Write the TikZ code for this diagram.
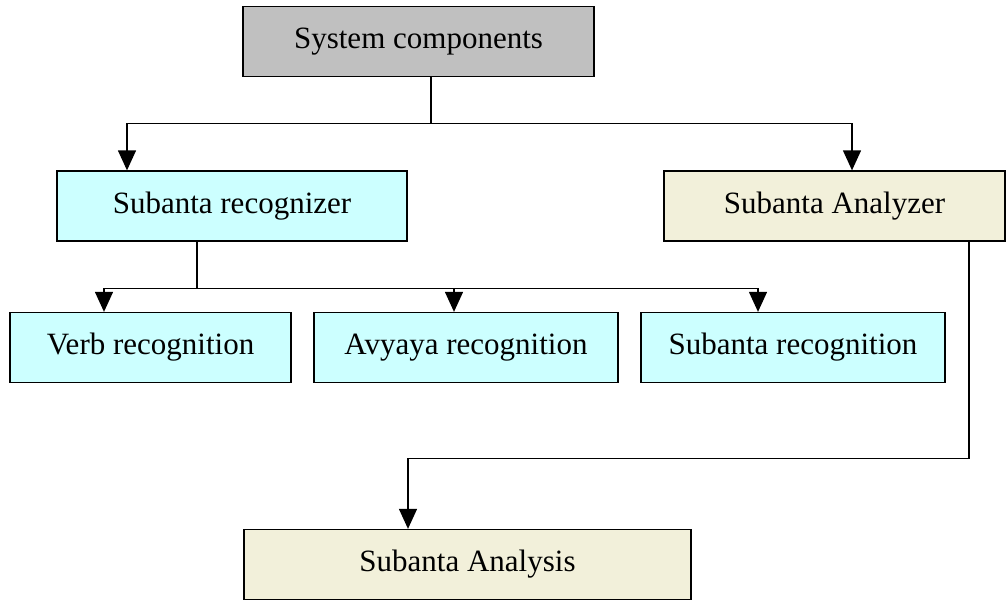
\documentclass[tikz,border=0pt]{standalone}
\usepackage{fontspec}
\setmainfont{Liberation Serif}
\usepackage{tikz}
\usetikzlibrary{arrows.meta}
\usetikzlibrary{calc}
\definecolor{boxgrey}{HTML}{C0C0C0}
\definecolor{boxcyan}{HTML}{CCFFFF}
\definecolor{boxbeige}{HTML}{F2F0DA}

\begin{document}
\begin{tikzpicture}[x=1pt,y=-1pt,
  box/.style={draw,line width=1.3pt,inner sep=0pt,minimum height=70pt,
    font=\fontsize{31}{36}\selectfont},
  link/.style={line width=1.3pt},
  flow/.style={link,-{Triangle[width=18pt,length=20pt]}}]
\useasboundingbox (0,0) rectangle (1006,602);
% boxes
\node[box,fill=boxgrey,minimum width=351pt]  (sys)  at (418.5,41.5) {System components};
\node[box,fill=boxcyan,minimum width=350pt]  (rec)  at (232,206)    {Subanta recognizer};
\node[box,fill=boxbeige,minimum width=341pt] (ana)  at (834.5,206)  {Subanta Analyzer};
\node[box,fill=boxcyan,minimum width=281pt]  (verb) at (150.5,347.5) {Verb recognition};
\node[box,fill=boxcyan,minimum width=304pt]  (avy)  at (466,347.5)  {Avyaya recognition};
\node[box,fill=boxcyan,minimum width=304pt]  (sub)  at (793,347.5)  {Subanta recognition};
\node[box,fill=boxbeige,minimum width=447pt] (anl)  at (467.5,564.5) {Subanta Analysis};
% connectors
\draw[link] ([xshift=12.5pt]sys.south) -- ++(0,46) coordinate (j1);
\draw[flow] (j1) -| ([xshift=-105pt]rec.north);
\draw[flow] (j1) -| ([xshift=17.5pt]ana.north);
\draw[link] ([xshift=-35pt]rec.south) -- ++(0,47) coordinate (j2);
\draw[flow] (j2) -| ([xshift=-46.5pt]verb.north);
\draw[flow] (j2) -| ([xshift=-12pt]avy.north);
\draw[flow] (j2) -| ([xshift=-35pt]sub.north);
\draw[link] ([xshift=134.5pt]ana.south) -- ++(0,217) coordinate (j3);
\draw[flow] (j3) -| ([xshift=-59.5pt]anl.north);
\end{tikzpicture}
\end{document}
